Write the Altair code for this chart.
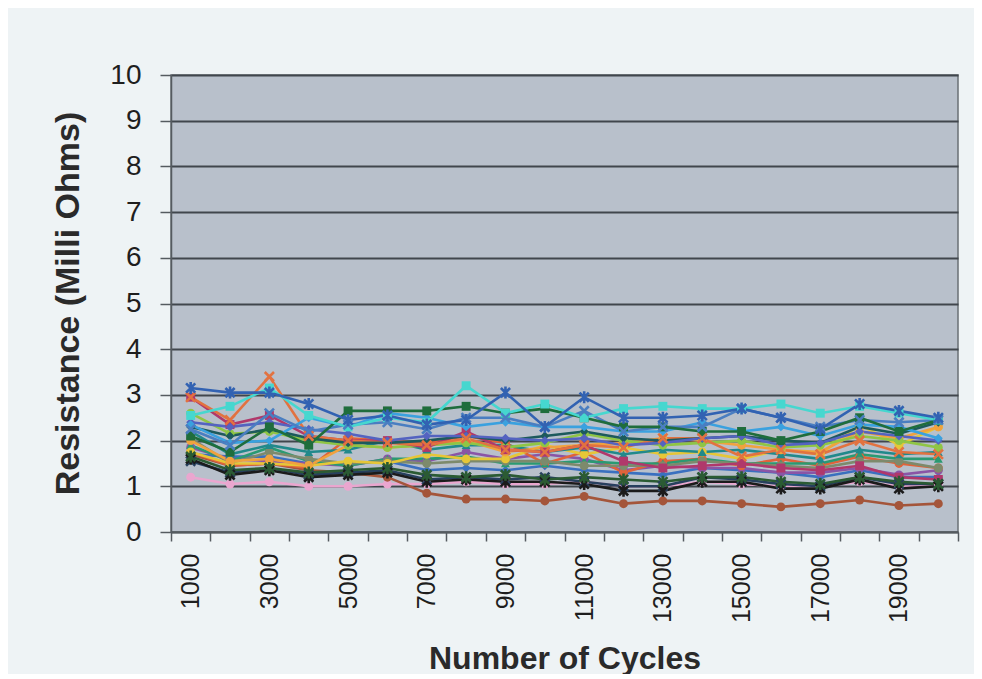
import altair as alt
import pandas as pd

cycles = [1000, 2000, 3000, 4000, 5000, 6000, 7000, 8000, 9000, 10000,
          11000, 12000, 13000, 14000, 15000, 16000, 17000, 18000, 19000, 20000]

s01 = [3.15, 3.05, 3.05, 2.80, 2.45, 2.55, 2.35, 2.45, 3.05, 2.30, 2.95, 2.50, 2.50, 2.55, 2.70, 2.50, 2.25, 2.80, 2.65, 2.50]
s02 = [2.95, 2.45, 3.40, 2.10, 2.00, 1.95, 1.90, 2.05, 1.80, 1.75, 1.90, 1.85, 2.05, 2.05, 1.65, 1.80, 1.70, 2.00, 1.75, 1.70]
s03 = [2.55, 2.75, 3.15, 2.55, 2.30, 2.50, 2.40, 3.20, 2.60, 2.80, 2.50, 2.70, 2.75, 2.70, 2.70, 2.80, 2.60, 2.75, 2.60, 2.45]
s04 = [2.10, 1.75, 2.30, 1.90, 2.65, 2.65, 2.65, 2.75, 2.60, 2.70, 2.50, 2.30, 2.30, 2.20, 2.20, 2.00, 2.20, 2.50, 2.20, 2.45]
s05 = [2.95, 2.35, 2.55, 2.10, 2.00, 2.00, 1.85, 2.20, 1.80, 1.75, 1.90, 1.55, 1.40, 1.45, 1.50, 1.40, 1.35, 1.45, 1.20, 1.15]
s06 = [1.70, 1.45, 1.50, 1.35, 1.30, 1.20, 0.85, 0.72, 0.72, 0.68, 0.78, 0.62, 0.68, 0.68, 0.62, 0.55, 0.62, 0.70, 0.58, 0.62]
s07 = [1.60, 1.25, 1.35, 1.20, 1.25, 1.30, 1.10, 1.15, 1.10, 1.10, 1.05, 0.90, 0.90, 1.10, 1.10, 0.95, 0.95, 1.15, 0.95, 1.00]
s08 = [1.20, 1.05, 1.10, 1.00, 1.00, 1.05, 1.05, 1.10, 1.05, 1.05, 1.10, 1.00, 1.00, 1.10, 1.05, 1.00, 1.00, 1.10, 1.00, 1.05]
s09 = [2.60, 2.15, 2.20, 2.00, 1.90, 1.85, 1.90, 1.95, 1.85, 1.95, 2.15, 2.00, 1.90, 1.95, 2.00, 1.85, 1.90, 2.10, 2.00, 1.85]
s10 = [2.35, 1.95, 2.00, 2.50, 2.30, 2.60, 2.50, 2.30, 2.40, 2.30, 2.30, 2.20, 2.20, 2.40, 2.20, 2.30, 2.10, 2.35, 2.30, 2.05]
s11 = [2.20, 1.70, 1.90, 1.75, 1.80, 2.00, 1.80, 1.90, 1.90, 1.75, 1.85, 1.70, 1.80, 1.75, 1.80, 1.70, 1.60, 1.80, 1.70, 1.75]
s12 = [1.75, 1.50, 1.50, 1.45, 1.55, 1.50, 1.70, 1.60, 1.60, 1.90, 1.70, 1.85, 1.70, 1.75, 1.60, 1.80, 1.70, 2.35, 1.90, 2.30]
s13 = [1.85, 1.60, 1.55, 1.50, 1.45, 1.60, 1.55, 1.75, 1.60, 1.70, 1.60, 1.35, 1.45, 1.40, 1.40, 1.30, 1.30, 1.40, 1.25, 1.35]
s14 = [1.55, 1.30, 1.40, 1.25, 1.30, 1.35, 1.15, 1.20, 1.15, 1.20, 1.10, 1.00, 1.00, 1.20, 1.15, 1.05, 1.00, 1.20, 1.05, 1.05]
s15 = [2.25, 1.90, 2.60, 2.20, 2.35, 2.40, 2.25, 2.50, 2.50, 2.30, 2.65, 2.20, 2.30, 2.30, 2.70, 2.50, 2.30, 2.45, 2.40, 2.45]
s16 = [2.00, 1.55, 1.60, 1.45, 1.90, 1.85, 1.90, 2.00, 1.75, 1.85, 1.90, 1.95, 2.05, 2.00, 1.90, 1.80, 1.75, 2.20, 2.05, 2.30]
s17 = [2.05, 1.50, 1.75, 1.60, 1.50, 1.55, 1.50, 1.55, 1.55, 1.55, 1.45, 1.45, 1.45, 1.55, 1.50, 1.45, 1.40, 1.55, 1.55, 1.40]
s18 = [1.90, 1.55, 1.85, 1.55, 1.45, 1.60, 1.60, 1.65, 1.50, 1.50, 1.55, 1.50, 1.50, 1.60, 1.50, 1.50, 1.50, 1.70, 1.60, 1.60]
s19 = [1.70, 1.65, 1.65, 1.50, 1.50, 1.55, 1.35, 1.40, 1.35, 1.45, 1.35, 1.30, 1.25, 1.40, 1.35, 1.30, 1.20, 1.35, 1.20, 1.20]
s20 = [1.65, 1.35, 1.40, 1.30, 1.35, 1.40, 1.25, 1.20, 1.25, 1.15, 1.20, 1.15, 1.10, 1.20, 1.20, 1.10, 1.05, 1.20, 1.10, 1.05]
s21 = [2.40, 2.30, 2.40, 2.25, 2.15, 2.00, 2.10, 2.10, 2.05, 2.00, 2.05, 1.90, 1.95, 2.05, 2.10, 1.90, 1.95, 2.20, 2.10, 2.00]
s22 = [1.75, 1.45, 1.50, 1.40, 2.05, 2.00, 1.95, 2.10, 1.95, 1.50, 1.75, 1.30, 1.55, 1.60, 1.45, 1.60, 1.45, 1.65, 1.50, 1.40]
s23 = [2.30, 2.10, 2.25, 2.05, 1.95, 1.95, 2.00, 2.10, 2.00, 2.10, 2.20, 2.05, 2.00, 2.05, 2.10, 2.00, 1.95, 2.30, 2.15, 2.40]

series_values = [s08, s06, s14, s07, s20, s19, s13, s22, s18, s17, s12, s11, s16,
                 s09, s05, s02, s23, s21, s10, s15, s04, s03, s01]
series_names = ["S08", "S06", "S14", "S07", "S20", "S19", "S13", "S22", "S18", "S17", "S12", "S11", "S16",
                "S09", "S05", "S02", "S23", "S21", "S10", "S15", "S04", "S03", "S01"]
series_colors = ["#eaa6cf", "#a4553a", "#27405e", "#1b1b1b", "#2b5b33", "#3a70bf", "#8a55a6", "#e0633a",
                 "#2a9a72", "#7d8a6c", "#e6c637", "#21898b", "#f0a23e", "#8fc545", "#b0386b", "#e27240",
                 "#1d5a5c", "#5463c0", "#3aa1df", "#4a7ec1", "#1f6d3c", "#46d7cf", "#3262b2"]
series_markers = ["circle", "circle", "x", "star", "star", "diamond", "circle", "circle",
                  "triangle", "circle", "circle", "triangle", "circle", "circle", "square", "x",
                  "diamond", "diamond", "diamond", "x", "square", "square", "star"]

rows = []
for name, vals, mk in zip(series_names, series_values, series_markers):
    for c, v in zip(cycles, vals):
        rows.append({"series": name, "cycles": c, "value": v, "marker": mk})
df = pd.DataFrame(rows)

FONT = "Liberation Sans"

color_enc = alt.Color("series:N", scale=alt.Scale(domain=series_names, range=series_colors), legend=None)

base = alt.Chart(df).encode(
    x=alt.X("cycles:O",
            scale=alt.Scale(type="band", paddingInner=0, paddingOuter=0),
            sort=cycles,
            axis=alt.Axis(title="Number of Cycles",
                          labelExpr="datum.value % 2000 == 1000 ? datum.label : ''",
                          labelAngle=-90, labelFontSize=25, labelFont=FONT, labelColor="#1e1e1e",
                          labelPadding=12, labelOverlap=False,
                          tickSize=9, tickBand="extent", tickColor="#555b60", tickWidth=1.5,
                          domainColor="#555b60", domainWidth=1.5, grid=False,
                          titleFont=FONT, titleFontSize=32, titleFontWeight="bold", titleColor="#2a2a2a",
                          titleBaseline="alphabetic", titleY=136)),
    y=alt.Y("value:Q",
            scale=alt.Scale(domain=[0, 10], nice=False),
            axis=alt.Axis(title="Resistance (Milli Ohms)", values=[0, 1, 2, 3, 4, 5, 6, 7, 8, 9, 10],
                          labelFontSize=28, labelFont=FONT, labelColor="#1e1e1e", labelPadding=19,
                          tickSize=11, tickColor="#555b60", tickWidth=1.5,
                          domainColor="#555b60", domainWidth=1.5,
                          grid=True, gridColor="#40464d", gridWidth=1.8,
                          titleFont=FONT, titleFontSize=34, titleFontWeight="bold", titleColor="#2a2a2a",
                          titleX=-86, titleY=228)),
    color=color_enc,
    detail="series:N",
)

lines = base.mark_line(strokeWidth=2.6)

shape_scale = alt.Scale(
    domain=["circle", "square", "diamond", "triangle", "x", "star"],
    range=["circle", "square", "diamond", "triangle-up",
           "M-1,-1L1,1M1,-1L-1,1",
           "M-1,-1L1,1M1,-1L-1,1M0,-1.3L0,1.3"])

filled_pts = base.mark_point(filled=True, size=80, opacity=1).encode(
    shape=alt.Shape("marker:N", scale=shape_scale, legend=None)
).transform_filter("datum.marker != 'x' && datum.marker != 'star'")

stroked_pts = base.mark_point(filled=False, size=85, strokeWidth=2.6, opacity=1).encode(
    shape=alt.Shape("marker:N", scale=shape_scale, legend=None)
).transform_filter("datum.marker == 'x' || datum.marker == 'star'")

chart = alt.layer(lines, filled_pts, stroked_pts).properties(
    width=787, height=457,
    background="#eef3f5",
    padding={"left": 163, "top": 67, "right": 16, "bottom": 142},
    autosize=alt.AutoSizeParams(type="none"),
).configure_view(fill="#b8c0cb", stroke="#6a7076", strokeWidth=1.5)

chart.save("out.html", embed_options={"renderer": "svg", "actions": False})
